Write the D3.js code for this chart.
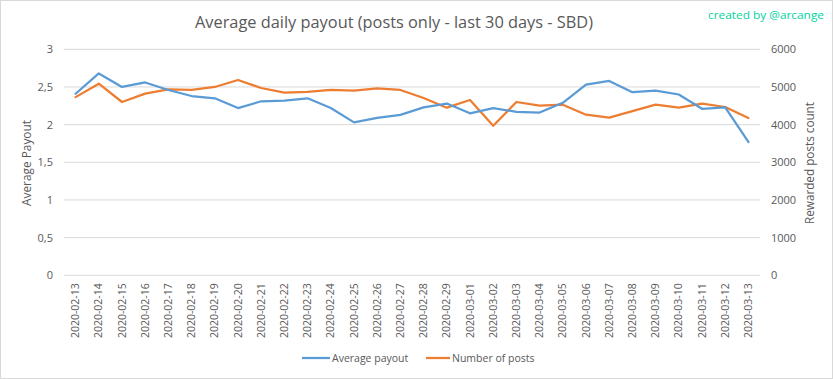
<!DOCTYPE html>
<html><head><meta charset="utf-8">
<script src="https://cdn.jsdelivr.net/npm/d3@7/dist/d3.min.js"></script>
<style>body{margin:0;background:#fff}svg{display:block}text{font-family:"Open Sans",sans-serif}</style>
</head><body><svg id="c" width="833" height="379"></svg>
<script>
const dates = ["2020-02-13","2020-02-14","2020-02-15","2020-02-16","2020-02-17","2020-02-18","2020-02-19","2020-02-20","2020-02-21","2020-02-22","2020-02-23","2020-02-24","2020-02-25","2020-02-26","2020-02-27","2020-02-28","2020-02-29","2020-03-01","2020-03-02","2020-03-03","2020-03-04","2020-03-05","2020-03-06","2020-03-07","2020-03-08","2020-03-09","2020-03-10","2020-03-11","2020-03-12","2020-03-13"];
const avgPayout = [2.41,2.68,2.50,2.56,2.46,2.38,2.35,2.22,2.31,2.32,2.35,2.22,2.03,2.09,2.13,2.23,2.28,2.15,2.22,2.17,2.16,2.29,2.53,2.58,2.43,2.45,2.40,2.21,2.23,1.77];
const postCount = [4730,5087,4601,4822,4938,4920,5000,5185,4973,4848,4867,4920,4901,4964,4920,4707,4450,4654,3972,4601,4503,4530,4264,4184,4360,4530,4450,4556,4468,4176];
const leftTicks = [0,0.5,1,1.5,2,2.5,3];
const rightTicks = [0,1000,2000,3000,4000,5000,6000];

const svg = d3.select("#c");
const L = 64, R = 760, T = 49.3, B = 275.3;
const textCol = "#595959";

svg.append("rect").attr("x",0.5).attr("y",0.5).attr("width",832).attr("height",378)
  .attr("fill","#fff").attr("stroke","#d9d9d9");

const x = d3.scaleBand().domain(dates).range([L,R]);
const yL = d3.scaleLinear().domain([0,3]).range([B,T]);
const yR = d3.scaleLinear().domain([0,6000]).range([B,T]);

// gridlines
svg.append("g").selectAll("line").data(leftTicks).join("line")
  .attr("x1",L).attr("x2",R).attr("y1",d=>yL(d)).attr("y2",d=>yL(d))
  .attr("stroke","#d9d9d9").attr("stroke-width",1);

// left axis
const gl = svg.append("g").attr("transform",`translate(${L},0)`)
  .call(d3.axisLeft(yL).tickValues(leftTicks).tickSize(0).tickPadding(11)
    .tickFormat(d=>String(d).replace(".",",")));
gl.select(".domain").remove();
gl.selectAll("text").attr("fill",textCol).style("font-size","11px").style("font-family","Open Sans");

// right axis
const gr = svg.append("g").attr("transform",`translate(${R},0)`)
  .call(d3.axisRight(yR).tickValues(rightTicks).tickSize(0).tickPadding(11).tickFormat(d=>String(d)));
gr.select(".domain").remove();
gr.selectAll("text").attr("fill",textCol).style("font-size","11px").style("font-family","Open Sans");

// x axis
const gx = svg.append("g").attr("transform",`translate(0,${B})`)
  .call(d3.axisBottom(x).tickSize(0).tickPadding(0));
gx.select(".domain").remove();
gx.selectAll("text").attr("fill",textCol).style("font-size","10.5px").style("font-family","Open Sans")
  .attr("transform","rotate(-90)").attr("text-anchor","end").attr("dy","0.35em").attr("x",-8).attr("y",0);

// lines
const lineL = d3.line().x((d,i)=>x(dates[i])+x.bandwidth()/2).y(d=>yL(d));
const lineR = d3.line().x((d,i)=>x(dates[i])+x.bandwidth()/2).y(d=>yR(d));
svg.append("path").datum(postCount).attr("d",lineR).attr("fill","none")
  .attr("stroke","#ed7d31").attr("stroke-width",2.25).attr("stroke-linejoin","round").attr("stroke-linecap","round");
svg.append("path").datum(avgPayout).attr("d",lineL).attr("fill","none")
  .attr("stroke","#5b9bd5").attr("stroke-width",2.25).attr("stroke-linejoin","round").attr("stroke-linecap","round");

// title
svg.append("text").attr("x",394).attr("y",28).attr("text-anchor","middle")
  .attr("fill",textCol).style("font-size","17px").attr("textLength",398).attr("lengthAdjust","spacingAndGlyphs")
  .text("Average daily payout (posts only - last 30 days - SBD)");
svg.append("text").attr("x",824).attr("y",19).attr("text-anchor","end")
  .attr("fill","#00d4a0").style("font-size","11.5px").attr("textLength",116).attr("lengthAdjust","spacingAndGlyphs")
  .text("created by @arcange");

// axis titles
svg.append("text").attr("transform","translate(31,163) rotate(-90)").attr("text-anchor","middle")
  .attr("fill",textCol).style("font-size","12px").attr("textLength",86).attr("lengthAdjust","spacingAndGlyphs").text("Average Payout");
svg.append("text").attr("transform","translate(814,163) rotate(-90)").attr("text-anchor","middle")
  .attr("fill",textCol).style("font-size","12px").attr("textLength",122).attr("lengthAdjust","spacingAndGlyphs").text("Rewarded posts count");

// legend
const legend = [{name:"Average payout",color:"#5b9bd5",x:302,w:28},{name:"Number of posts",color:"#ed7d31",x:426,w:24}];
const lg = svg.append("g").selectAll("g").data(legend).join("g");
lg.append("line").attr("x1",d=>d.x).attr("x2",d=>d.x+d.w).attr("y1",358).attr("y2",358)
  .attr("stroke",d=>d.color).attr("stroke-width",2.25);
lg.append("text").attr("x",d=>d.x+d.w+2).attr("y",358).attr("dy","0.35em").attr("fill",textCol)
  .style("font-size","10.5px").text(d=>d.name);
</script></body></html>
